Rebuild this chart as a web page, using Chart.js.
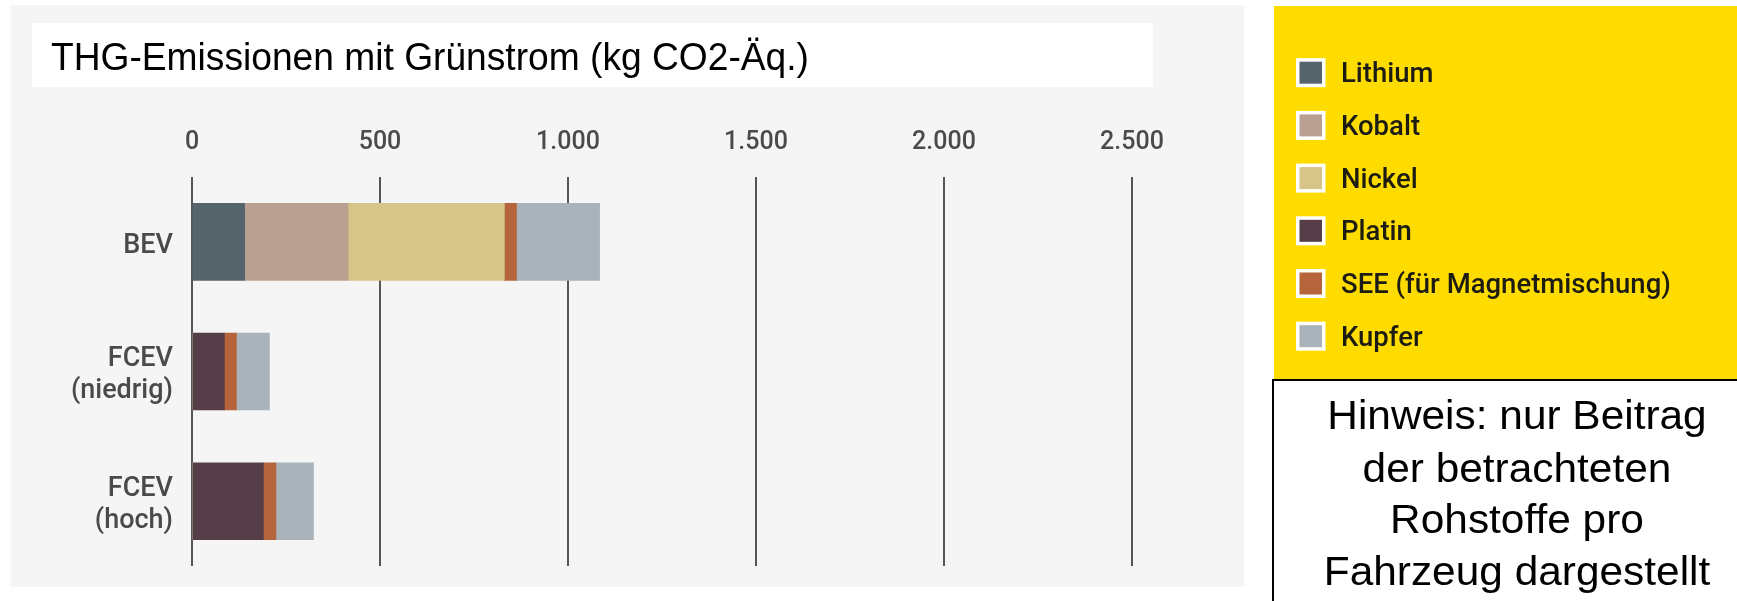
<!DOCTYPE html>
<html>
<head>
<meta charset="utf-8">
<script src="https://cdn.jsdelivr.net/npm/chart.js@4.4.1/dist/chart.umd.min.js"></script>
<style>
  html, body { margin: 0; padding: 0; background: #ffffff; }
  #wrap { position: relative; width: 1737px; height: 601px; }
  canvas { display: block; }
</style>
</head>
<body>
<div id="wrap"><canvas id="c" width="1737" height="601" style="width:1737px;height:601px"></canvas></div>
<script>
// ---- data ----
const categories = [['BEV'], ['FCEV', '(niedrig)'], ['FCEV', '(hoch)']];
const lithium = [140, 0, 0];
const kobalt  = [275, 0, 0];
const nickel  = [416, 0, 0];
const platin  = [0, 86, 190];
const see     = [32, 32, 33];
const kupfer  = [221, 88, 100];
const seriesNames = ['Lithium', 'Kobalt', 'Nickel', 'Platin', 'SEE (für Magnetmischung)', 'Kupfer'];
const xTickLabels = ['0', '500', '1.000', '1.500', '2.000', '2.500'];
const titleText = 'THG-Emissionen mit Grünstrom (kg CO2-Äq.)';
const noteLines = ['Hinweis: nur Beitrag', 'der betrachteten', 'Rohstoffe pro', 'Fahrzeug dargestellt'];

const colors = ['#56656c', '#b9a191', '#d6c489', '#553e48', '#b5643b', '#a9b3b9'];
const seriesValues = [lithium, kobalt, nickel, platin, see, kupfer];

const datasets = seriesNames.map((name, i) => ({
  label: name,
  data: seriesValues[i],
  backgroundColor: colors[i],
  borderWidth: 0,
  barThickness: 77
}));

const decorPlugin = {
  id: 'decor',
  beforeDraw(chart) {
    const ctx = chart.ctx;
    ctx.save();
    ctx.fillStyle = '#ffffff';
    ctx.fillRect(0, 0, 1737, 601);
    // gray panel
    ctx.fillStyle = '#f5f5f5';
    ctx.fillRect(11, 5, 1233, 582);
    // title box
    ctx.fillStyle = '#ffffff';
    ctx.fillRect(32, 23, 1121, 64);
    ctx.fillStyle = '#000000';
    ctx.font = '39px "Liberation Sans", Arial, sans-serif';
    ctx.textBaseline = 'alphabetic';
    ctx.textAlign = 'left';
    ctx.translate(51, 70);
    ctx.scale(0.953, 1);
    ctx.fillText(titleText, 0, 0);
    ctx.restore();

    // legend box
    ctx.save();
    ctx.fillStyle = '#ffdc00';
    ctx.fillRect(1274, 6, 463, 374);
    // note box
    ctx.fillStyle = '#ffffff';
    ctx.fillRect(1274, 380, 463, 221);
    ctx.fillStyle = '#000000';
    ctx.fillRect(1272, 379, 465, 2);
    ctx.fillRect(1272, 379, 2, 222);
    ctx.restore();
  },
  afterDraw(chart) {
    const ctx = chart.ctx;
    ctx.save();
    // legend from datasets
    chart.data.datasets.forEach((ds, i) => {
      const cy = 72.7 + i * 52.7;
      ctx.fillStyle = '#ffffff';
      ctx.fillRect(1296, cy - 14.5, 29.5, 29);
      ctx.fillStyle = ds.backgroundColor;
      ctx.fillRect(1299.5, cy - 11, 22.5, 22);
      ctx.fillStyle = '#1c1c12';
      ctx.font = '500 27.5px Roboto, "Liberation Sans", sans-serif';
      ctx.textAlign = 'left';
      ctx.textBaseline = 'alphabetic';
      ctx.fillText(ds.label, 1341, cy + 9.6);
    });
    // note text
    ctx.fillStyle = '#000000';
    ctx.font = '40px "Liberation Sans", Arial, sans-serif';
    ctx.textAlign = 'center';
    const baselines = [429.3, 482, 532.8, 584.5];
    noteLines.forEach((t, i) => {
      ctx.save();
      ctx.translate(1517, baselines[i]);
      ctx.scale(1.06, 1);
      ctx.fillText(t, 0, 0);
      ctx.restore();
    });
    ctx.restore();
  }
};

new Chart(document.getElementById('c'), {
  type: 'bar',
  data: { labels: categories, datasets },
  plugins: [decorPlugin],
  options: {
    indexAxis: 'y',
    responsive: false,
    animation: false,
    devicePixelRatio: 1,
    layout: { padding: { left: 0, top: 0, right: 605, bottom: 27 } },
    plugins: { legend: { display: false }, tooltip: { enabled: false }, title: { display: false } },
    scales: {
      x: {
        position: 'top',
        stacked: true,
        min: 0,
        max: 2500,
        afterFit(scale) { scale.height = 177; },
        border: { display: false },
        grid: { color: '#555555', lineWidth: 2, drawTicks: false },
        ticks: {
          stepSize: 500,
          padding: 19,
          color: '#4a4a4a',
          font: { family: 'Roboto', size: 25, weight: '500' },
          callback: (v, i) => xTickLabels[i]
        }
      },
      y: {
        stacked: true,
        afterFit(scale) { scale.width = 192; },
        border: { display: false },
        grid: { display: false, drawTicks: false },
        ticks: {
          padding: 19,
          labelOffset: 4,
          color: '#4a4a4a',
          font: { family: 'Roboto', size: 27, weight: '500', lineHeight: 1.18 }
        }
      }
    }
  }
});
</script>
</body>
</html>
